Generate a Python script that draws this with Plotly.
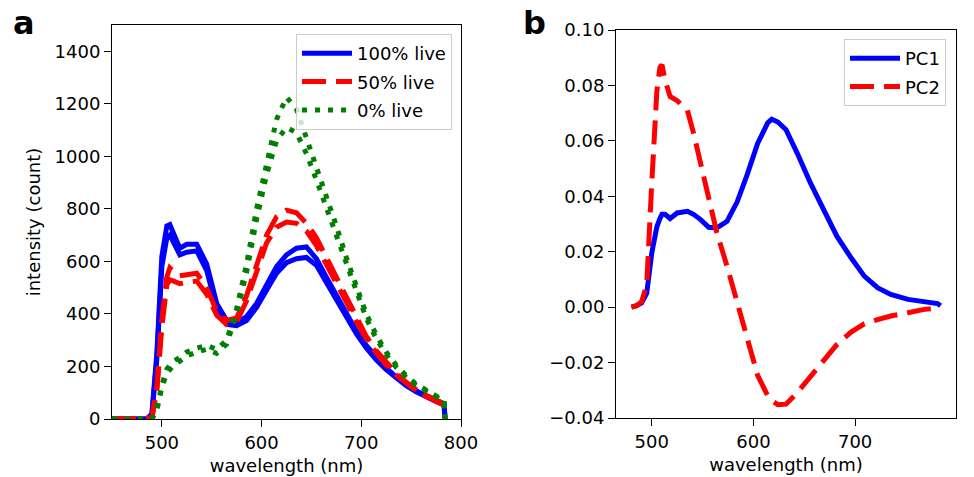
import plotly.graph_objects as go

# ---------------- Panel a data ----------------
wl_a = [450, 485, 490, 495, 500, 505, 508, 512, 518, 525, 535, 545, 555, 565, 575,
        585, 595, 605, 615, 625, 635, 645, 655, 665, 675, 685, 695, 705, 715, 725,
        735, 745, 755, 765, 775, 783, 784]

live100_rep1 = [0, 0, 20, 250, 620, 735, 740, 700, 650, 665, 665, 590, 440, 375, 365,
                390, 440, 510, 580, 625, 650, 655, 610, 540, 470, 405, 335, 280, 235, 195,
                160, 132, 108, 88, 70, 58, 0]
live100_rep2 = [0, 0, 15, 230, 580, 690, 700, 670, 625, 635, 640, 565, 420, 360, 355,
                375, 425, 490, 555, 595, 610, 615, 585, 520, 455, 390, 325, 270, 225, 188,
                155, 127, 104, 84, 67, 55, 0]

live50_rep1 = [0, 0, 5, 120, 380, 540, 575, 560, 545, 550, 555, 500, 410, 375, 385,
               470, 590, 700, 770, 795, 785, 745, 690, 615, 540, 460, 385, 315, 260, 215,
               175, 140, 112, 90, 72, 58, 0]
live50_rep2 = [0, 0, 3, 110, 350, 510, 530, 525, 515, 520, 525, 475, 395, 360, 370,
               450, 565, 670, 730, 750, 745, 715, 660, 590, 520, 445, 370, 305, 252, 205,
               168, 135, 108, 86, 68, 52, 0]

live0_rep1 = [0, 0, 0, 40, 130, 190, 205, 220, 235, 255, 270, 280, 265, 300, 420,
              590, 800, 980, 1140, 1225, 1180, 1070, 960, 850, 735, 615, 500, 400, 320, 255,
              205, 165, 133, 108, 88, 72, 0]
live0_rep2 = [0, 0, 0, 35, 120, 175, 190, 205, 220, 240, 255, 265, 250, 285, 400,
              560, 760, 930, 1060, 1110, 1090, 1010, 910, 805, 700, 585, 478, 383, 306, 245,
              197, 158, 128, 104, 85, 68, 0]

# ---------------- Panel b data ----------------
wl_b = [480, 485, 490, 495, 500, 505, 508, 510, 513, 518, 525, 535, 541, 548, 556,
        564, 574, 584, 594, 604, 614, 618, 624, 632, 643, 656, 669, 682, 696, 709,
        722, 735, 752, 768, 781, 784]

pc1 = [0.0, 0.0005, 0.0015, 0.005, 0.0196, 0.029, 0.032, 0.0335, 0.0335, 0.032, 0.034, 0.0346, 0.0335, 0.0316, 0.0288,
       0.0286, 0.031, 0.038, 0.048, 0.059, 0.0665, 0.0678, 0.0668, 0.064, 0.0556, 0.0448, 0.0352, 0.0256, 0.0178, 0.0112,
       0.007, 0.0046, 0.0028, 0.0018, 0.0013, 0.0005]
pc2 = [0.0, 0.0005, 0.002, 0.008, 0.045, 0.078, 0.0865, 0.0875, 0.082, 0.076, 0.0745, 0.071, 0.0629, 0.052, 0.0388,
       0.0268, 0.0148, 0.0016, -0.0125, -0.0245, -0.032, -0.0338, -0.0352, -0.035, -0.0309, -0.0249, -0.0189, -0.0135, -0.009, -0.006,
       -0.0045, -0.0032, -0.002, -0.0008, -0.0004, -0.0002]

BLUE = "#0000ff"
RED = "#ff0000"
GREEN = "#008000"
LW = 5
DASH = "24px,10px"
DOT = "5px,8px"
FONT = "DejaVu Sans"
FS = 18

fig = go.Figure()

series_a = [
    ("100% live", [live100_rep1, live100_rep2], BLUE, "solid"),
    ("50% live", [live50_rep1, live50_rep2], RED, DASH),
    ("0% live", [live0_rep1, live0_rep2], GREEN, DOT),
]
for name, reps, color, dash in series_a:
    for i, ys in enumerate(reps):
        fig.add_trace(go.Scatter(
            x=wl_a, y=ys, mode="lines", name=name,
            line=dict(color=color, width=LW, dash=dash),
            legendgroup=name, showlegend=(i == 0), legend="legend",
            xaxis="x", yaxis="y"))

fig.add_trace(go.Scatter(x=wl_b, y=pc1, mode="lines", name="PC1",
                         line=dict(color=BLUE, width=LW), legendgroup="PC1",
                         legend="legend2", xaxis="x2", yaxis="y2"))
fig.add_trace(go.Scatter(x=wl_b, y=pc2, mode="lines", name="PC2",
                         line=dict(color=RED, width=LW, dash=DASH), legendgroup="PC2",
                         legend="legend2", xaxis="x2", yaxis="y2"))

# positions below are in screen pixels (page body margin removed by post_script)
W, H = 974, 477
ML, MR, MT, MB = 112, 974 - 956, 25, 477 - 419
PW, PH = W - ML - MR, H - MT - MB

def px_x(p):
    return (p - ML) / PW

def px_y(p):
    return 1 - (p - MT) / PH

axis_common = dict(showline=True, mirror=True, linecolor="black", linewidth=1,
                   ticks="outside", ticklen=7, tickwidth=1, tickcolor="black",
                   showgrid=False, zeroline=False,
                   tickfont=dict(family=FONT, size=FS, color="black"),
                   title_font=dict(family=FONT, size=FS, color="black"))

fig.update_layout(
    width=W, height=H,
    margin=dict(l=ML, r=MR, t=MT, b=MB, autoexpand=False),
    paper_bgcolor="white", plot_bgcolor="white",
    font=dict(family=FONT, size=FS, color="black"),
    xaxis=dict(domain=[0, px_x(461)], range=[450, 800], tickvals=[500, 600, 700, 800],
               title=dict(text="wavelength (nm)", standoff=7), anchor="y", **axis_common),
    yaxis=dict(domain=[0, 1], range=[0, 1500], tickvals=[0, 200, 400, 600, 800, 1000, 1200, 1400],
               title=dict(text="intensity (count)", standoff=9), anchor="x", **axis_common),
    xaxis2=dict(domain=[px_x(616), 1], range=[464.8, 799.2], tickvals=[500, 600, 700, 800],
                title=dict(text="wavelength (nm)", standoff=7), anchor="y2", **axis_common),
    yaxis2=dict(domain=[px_y(418), px_y(30)], range=[-0.04, 0.10],
                tickvals=[-0.04, -0.02, 0.0, 0.02, 0.04, 0.06, 0.08, 0.10], tickformat=".2f",
                anchor="x2", **axis_common),
    legend=dict(x=px_x(452), y=px_y(34), xanchor="right", yanchor="top",
                bgcolor="rgba(255,255,255,0.8)", bordercolor="#cccccc", borderwidth=1,
                font=dict(family=FONT, size=FS, color="black"), itemwidth=50,
                traceorder="grouped", tracegroupgap=2),
    legend2=dict(x=px_x(946), y=px_y(39), xanchor="right", yanchor="top",
                 bgcolor="rgba(255,255,255,0.8)", bordercolor="#cccccc", borderwidth=1,
                 font=dict(family=FONT, size=FS, color="black"), itemwidth=50,
                 traceorder="grouped", tracegroupgap=2),
    annotations=[
        dict(text="<b>a</b>", x=px_x(23.5), y=px_y(2), xref="paper", yref="paper",
             xanchor="center", yanchor="top", showarrow=False,
             font=dict(family=FONT, size=32, color="black")),
        dict(text="<b>b</b>", x=px_x(534), y=px_y(2), xref="paper", yref="paper",
             xanchor="center", yanchor="top", showarrow=False,
             font=dict(family=FONT, size=32, color="black")),
    ],
)

fig.write_html("out.html", config={"displayModeBar": False},
               post_script="document.body.style.margin='0';document.body.style.padding='0';")
